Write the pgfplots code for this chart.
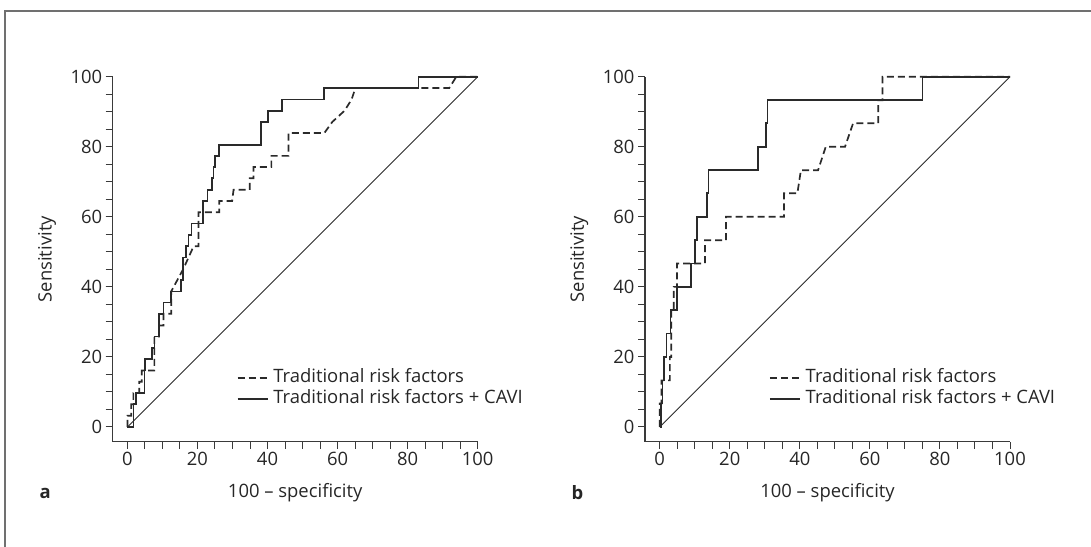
\documentclass[border=0pt]{standalone}
\usepackage{fontspec}
\setmainfont{Open Sans}
\usepackage{pgfplots}
\pgfplotsset{compat=1.18}
\definecolor{axc}{HTML}{3A3A3A}
\definecolor{cvc}{HTML}{2A2A2A}
\definecolor{txc}{HTML}{262626}
\definecolor{frc}{HTML}{707070}

\pgfplotstableread{
x y
0 0
1.7 0
1.7 6.5
2.4 6.5
2.4 9.7
4.9 9.7
4.9 16.1
5.1 16.1
5.1 19.4
7.0 19.4
7.0 22.6
7.7 22.6
7.7 25.8
9.0 25.8
9.0 32.3
10.3 32.3
10.3 35.5
12.5 35.5
12.5 38.7
15.2 38.7
15.2 41.9
15.9 41.9
15.9 48.4
16.8 48.4
16.8 51.6
17.4 51.6
17.4 54.8
18.3 54.8
18.3 58.1
21.5 58.1
21.5 64.5
22.9 64.5
22.9 67.7
24.1 67.7
24.1 71.0
24.6 71.0
24.6 74.2
25.1 74.2
25.1 77.4
26.1 77.4
26.1 80.6
38.2 80.6
38.2 87.1
40.1 87.1
40.1 90.3
44.1 90.3
44.1 93.5
56.2 93.5
56.2 96.8
83.1 96.8
83.1 100
100 100
}\solidA

\pgfplotstableread{
x y
0 0
0 3.2
1.1 3.2
1.1 6.5
1.7 6.5
1.7 9.7
3.4 9.7
3.4 12.9
4.1 12.9
4.1 16.1
7.7 16.1
7.7 25.8
9.0 25.8
9.0 29.0
10.3 29.0
10.3 32.3
12.5 32.3
12.5 38.7
16.0 45.2
18.9 51.6
20.3 51.6
20.3 61.3
26.2 61.3
26.2 64.5
29.9 64.5
30.3 67.7
34.9 67.7
34.9 71.0
36.0 71.0
36.0 74.2
41.1 74.2
41.1 77.4
46.0 77.4
46.0 83.9
56.2 83.9
58.5 87.1
62.0 90.3
64.0 93.5
65.1 96.8
91.9 96.8
93.9 100
100 100
}\dashedA

\pgfplotstableread{
x y
0 0
0.3 0
0.3 6.7
0.8 6.7
0.8 13.3
1.3 13.3
1.3 20
1.9 20
1.9 26.7
3.1 26.7
3.1 33.3
4.95 33.3
4.95 40
8.9 40
8.9 46.7
10.1 46.7
10.1 53.3
10.7 53.3
10.7 60
13.4 60
13.4 66.7
13.9 66.7
13.9 73.3
28.0 73.3
28.0 80
30.3 80
30.3 86.7
30.8 86.7
30.8 93.3
75.0 93.3
75.0 100
100 100
}\solidB

\pgfplotstableread{
x y
0 0
0 6.7
0.5 6.7
0.5 13.3
2.9 13.3
2.9 20
3.3 20
3.3 33.3
4.0 33.3
4.0 40
4.95 40
4.95 46.7
12.9 46.7
12.9 53.3
18.9 53.3
18.9 60
35.5 60
35.5 66.7
39.3 66.7
40.3 73.3
45.2 73.3
47.4 80
52.9 80
55.2 86.7
62.4 86.7
62.4 93.3
63.6 93.3
63.6 100
100 100
}\dashedB

\pgfplotstableread{
x y
0 0
100 100
}\diag

\pgfplotsset{
  rocaxis/.style={
    scale only axis, width=365bp, height=365bp,
    xmin=-4.2, xmax=100, ymin=-4.2, ymax=100,
    axis x line*=bottom, axis y line*=left,
    axis line style={axc, line width=1.3bp},
    xtick={0,20,...,100}, ytick={0,20,...,100},
    minor xtick={5,10,...,95}, minor ytick={5,10,...,95},
    tick align=outside, major tick length=7bp, minor tick length=7bp,
    every tick/.style={axc, line width=1bp},
    /pgf/number format/assume math mode=true,
    tick label style={font=\fontsize{18.5}{22}\selectfont, text=txc},
    xlabel={100 – specificity}, ylabel={Sensitivity},
    label style={font=\fontsize{18.5}{22}\selectfont, text=txc},
    xlabel style={at={(axis description cs:0.5,0)}, anchor=center, yshift=-51.3bp},
    ylabel style={at={(axis description cs:-0.18,0.5)}, anchor=center},
    clip=false,
    legend cell align=left,
    legend style={at={(axis cs:31.2,16.6)}, anchor=north west, draw=none, fill=none,
      inner sep=0pt, outer sep=0pt, row sep=3bp, column sep=5bp,
      font=\fontsize{18.5}{22}\selectfont, text=txc,
      nodes={inner sep=0pt, text height=14bp, text depth=4bp}},
    legend image code/.code={\draw[##1] (0bp,0bp) -- (30bp,0bp);},
  },
  solidc/.style={cvc, line width=1.7bp},
  dashc/.style={cvc, line width=1.7bp, dash pattern=on 7bp off 4bp},
  diagc/.style={cvc, line width=0.9bp, forget plot},
}

\begin{document}
\begin{tikzpicture}
\useasboundingbox (0bp,0bp) rectangle (1091bp,547bp);
\draw[frc, line width=1.3bp] (5bp,-10bp) -- (5bp,536bp) -- (1100bp,536bp);

\begin{axis}[rocaxis, at={(112.7bp,105.3bp)}, anchor=south west]
\addplot[diagc] table {\diag};
\addplot[dashc] table {\dashedA};
\addplot[solidc] table {\solidA};
\legend{Traditional risk factors, Traditional risk factors + CAVI}
\node[font=\fontsize{18.5}{22}\selectfont\bfseries, text=txc, anchor=center]
  at (axis description cs:-0.185,0) [yshift=-51.3bp] {a};
\end{axis}

\begin{axis}[rocaxis, at={(645bp,105.3bp)}, anchor=south west]
\addplot[diagc] table {\diag};
\addplot[dashc] table {\dashedB};
\addplot[solidc] table {\solidB};
\legend{Traditional risk factors, Traditional risk factors + CAVI}
\node[font=\fontsize{18.5}{22}\selectfont\bfseries, text=txc, anchor=center]
  at (axis description cs:-0.185,0) [yshift=-51.3bp] {b};
\end{axis}
\end{tikzpicture}
\end{document}
